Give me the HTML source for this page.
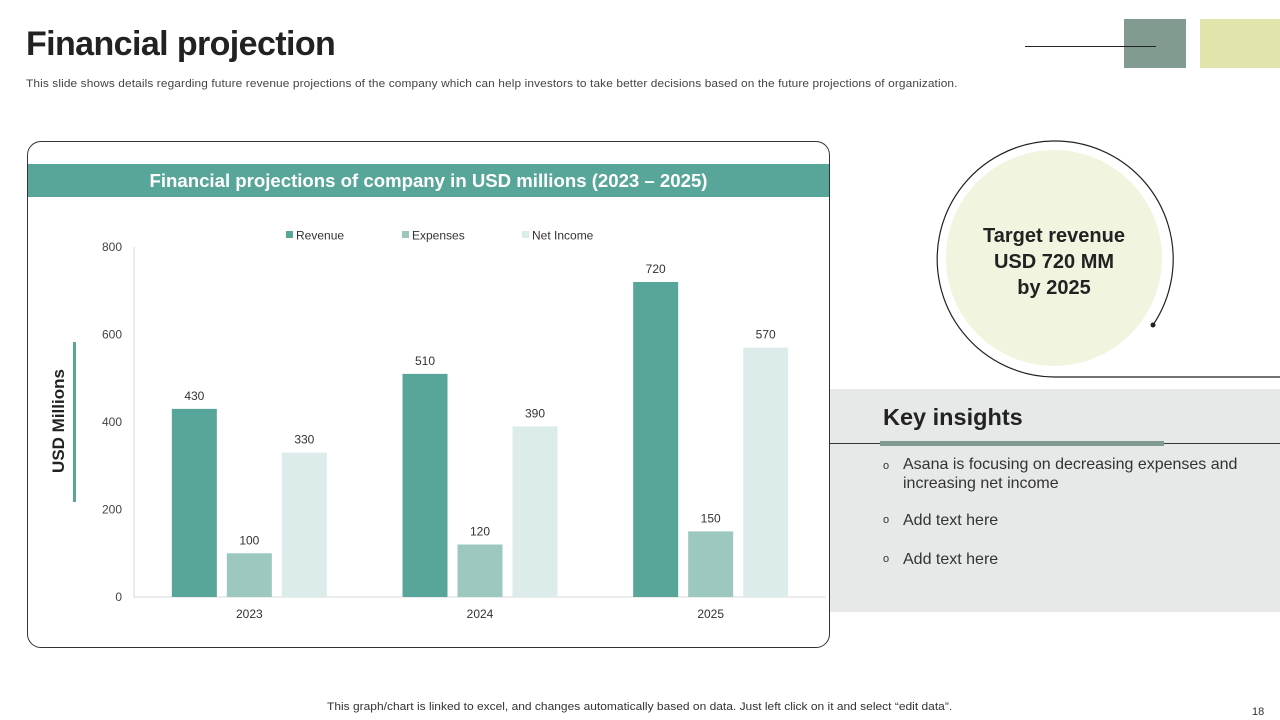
<!DOCTYPE html>
<html><head><meta charset="utf-8"><style>
body{margin:0;width:1280px;height:720px;position:relative;background:#fff;font-family:"Liberation Sans",sans-serif;overflow:hidden}
.a{position:absolute}
</style></head><body>
<div class="a" style="left:26px;top:25px;font-size:34px;font-weight:bold;color:#222;letter-spacing:-0.6px">Financial projection</div>
<div class="a" style="left:26px;top:78px;font-size:11px;color:#444;letter-spacing:0.1px;transform:scaleX(1.08);transform-origin:left">This slide shows details regarding future revenue projections of the company which can help investors to take better decisions based on the future projections of organization.</div>
<div class="a" style="left:1025px;top:46px;width:131px;height:1px;background:#222"></div>
<div class="a" style="left:1124px;top:19px;width:62px;height:49px;background:#819b91"></div>
<div class="a" style="left:1200px;top:19px;width:80px;height:49px;background:#e1e4ab"></div>
<div class="a" style="left:1124px;top:46px;width:32px;height:1px;background:#222"></div>

<div class="a" style="left:27px;top:141px;width:801px;height:505px;border:1px solid #333;border-radius:14px;"></div>
<div class="a" style="left:28px;top:164px;width:801px;height:33px;background:#58a59a;color:#fff;font-weight:bold;font-size:18.6px;text-align:center;line-height:33px">Financial projections of company in USD millions (2023 – 2025)</div>
<svg class="a" id="chart" style="left:0;top:0" width="1280" height="720"></svg>
<div class="a" style="left:59px;top:421px;transform:translate(-50%,-50%) rotate(-90deg);font-size:17px;font-weight:bold;color:#222;white-space:nowrap">USD Millions</div>
<div class="a" style="left:73px;top:342px;width:3px;height:160px;background:#58a59a"></div>

<svg class="a" style="left:0;top:0" width="1280" height="720">
<circle cx="1054" cy="258" r="108" fill="#f1f4de"/>
<path d="M1153 325 A118 118 0 1 0 1054 377 L1280 377" fill="none" stroke="#222" stroke-width="1.2"/>
<circle cx="1153" cy="325" r="2.5" fill="#222"/>
</svg>
<div class="a" style="left:954px;top:223px;width:200px;text-align:center;font-size:20px;font-weight:bold;color:#222;line-height:26px">Target revenue<br>USD 720 MM<br>by 2025</div>

<div class="a" style="left:830px;top:389px;width:450px;height:223px;background:#e6e9e7"></div>
<div class="a" style="left:883px;top:404px;font-size:23.5px;font-weight:bold;color:#222">Key insights</div>
<div class="a" style="left:830px;top:443px;width:450px;height:1px;background:#333"></div>
<div class="a" style="left:880px;top:441px;width:284px;height:5px;background:#819b91"></div>
<div class="a" style="left:883px;top:455px;width:380px;font-size:16px;color:#333;line-height:19px"><span style="position:absolute;left:0;font-size:11px;top:2px">o</span><div style="margin-left:20px">Asana is focusing on decreasing expenses and increasing net income</div></div>
<div class="a" style="left:883px;top:512px;font-size:16px;color:#333"><span style="position:absolute;left:0;font-size:11px;top:2px">o</span><div style="margin-left:20px">Add text here</div></div>
<div class="a" style="left:883px;top:551px;font-size:16px;color:#333"><span style="position:absolute;left:0;font-size:11px;top:2px">o</span><div style="margin-left:20px">Add text here</div></div>

<div class="a" style="left:327px;top:701px;font-size:11px;color:#333;transform:scaleX(1.09);transform-origin:left">This graph/chart is linked to excel, and changes automatically based on data. Just left click on it and select “edit data”.</div>
<div class="a" style="left:1252px;top:706px;font-size:11px;color:#333">18</div>

<script>
const categories=["2023","2024","2025"];
const seriesNames=["Revenue","Expenses","Net Income"];
const revenue=[430,510,720];
const expenses=[100,120,150];
const netIncome=[330,390,570];
const yTicks=[0,200,400,600,800];
const colors=["#58a59a","#9dc8c0","#dcecea"];
const svg=document.getElementById('chart');
const NS="http://www.w3.org/2000/svg";
const x0=134,x1=826,yBase=597,yTop=247,yMax=800;
const y=v=>yBase-(v/yMax)*(yBase-yTop);
const band=(x1-x0)/categories.length;
const bx=(i,s)=>x0+band*i+band/2-77.5+s*55;
function el(t,a){const e=document.createElementNS(NS,t);for(const k in a)e.setAttribute(k,a[k]);svg.appendChild(e);return e;}
let ax=el('line',{x1:x0,y1:yTop,x2:x0,y2:yBase,stroke:'#d9d9d9'});


let bl=el('line',{x1:x0,y1:yBase,x2:x1,y2:yBase,stroke:'#d9d9d9'});


yTicks.forEach(t=>{const e=el('text',{x:122,y:y(t)+4,'text-anchor':'end','font-size':12,fill:'#444'});e.textContent=t;

});
const all=[revenue,expenses,netIncome];
categories.forEach((c,i)=>{
 const e=el('text',{x:x0+band*i+band/2,y:618,'text-anchor':'middle','font-size':12,fill:'#333'});e.textContent=c;
 
 
 all.forEach((s,k)=>{
  const r=el('rect',{x:bx(i,k),y:y(s[i]),width:45,height:yBase-y(s[i]),fill:colors[k]});
  
  
  const l=el('text',{x:bx(i,k)+22.5,y:y(s[i])-9,'text-anchor':'middle','font-size':12,fill:'#333'});l.textContent=s[i];
  
  
 });
});
const lx=[286,402,522];
seriesNames.forEach((n,k)=>{
 const r=el('rect',{x:lx[k],y:231,width:7,height:7,fill:colors[k]});
 
 
 const t=el('text',{x:lx[k]+10,y:239.5,'font-size':12,fill:'#333'});t.textContent=n;
 
 
});
</script>
</body></html>
